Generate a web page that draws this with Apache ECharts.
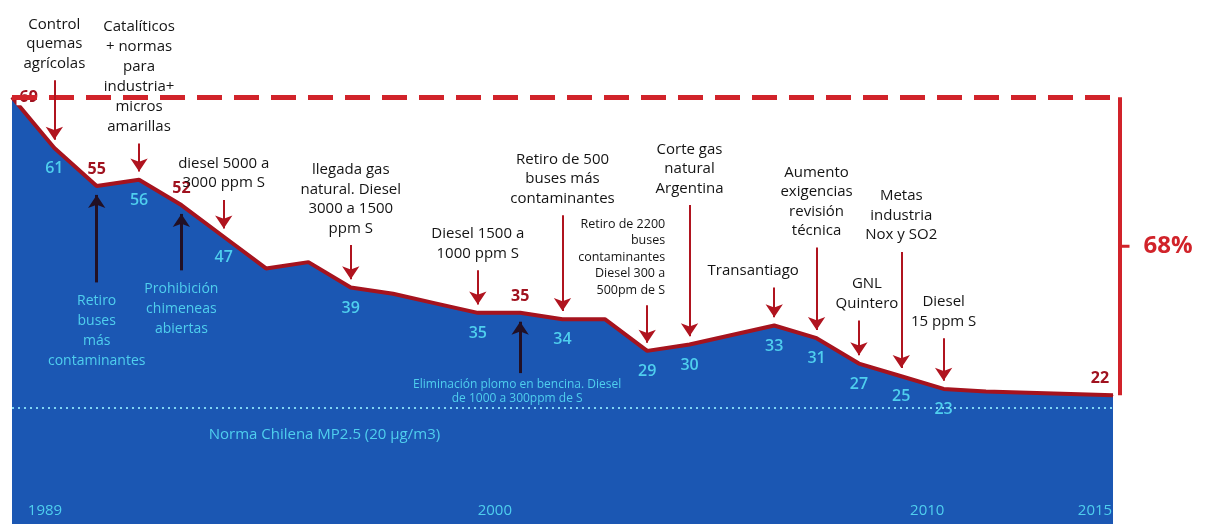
<!DOCTYPE html>
<html>
<head>
<meta charset="utf-8">
<script src="https://cdn.jsdelivr.net/npm/echarts@6/dist/echarts.min.js"></script>
<style>html,body{margin:0;padding:0;background:#fff}#c{width:1205px;height:524px}</style>
</head>
<body>
<div id="c"></div>
<script>
// ---------------- DATA ----------------
const years = ['1989','1990','1991','1992','1993','1994','1995','1996','1997','1998','1999','2000','2001','2002','2003','2004','2005','2006','2007','2008','2009','2010','2011','2012','2013','2014','2015'];
const pm25 = [69,61,55,56,52,47,42,43,39,38,36.5,35,35,34,34,29,30,31.5,33,31,27,25,23,22.6,22.4,22.2,22];
// which value labels are printed: r = red above the line, b = cyan below, '' = none
const valueLabelKind = ['r','b','r','b','r','b','','','b','','','b','r','b','','b','b','','b','b','b','b','b','','','','r'];
const tickYears = ['1989','2000','2010','2015'];

const downYears = ['1990','1992','1994','1997','2000','2002','2004','2005','2007','2008','2009','2010','2011'];
const downTexts = [
  'Control\nquemas\nagrícolas',
  'Catalíticos\n+ normas\npara\nindustria+\nmicros\namarillas',
  'diesel 5000 a\n3000 ppm S',
  'llegada gas\nnatural. Diesel\n3000 a 1500\nppm S',
  'Diesel 1500 a\n1000 ppm S',
  'Retiro de 500\nbuses más\ncontaminantes',
  'Retiro de 2200\nbuses\ncontaminantes\nDiesel 300 a\n500pm de S',
  'Corte gas\nnatural\nArgentina',
  'Transantiago',
  'Aumento\nexigencias\nrevisión\ntécnica',
  'GNL\nQuintero',
  'Metas\nindustria\nNox y SO2',
  'Diesel\n15 ppm S'
];
const downArrowTop = [71.7,61.7,52.8,45.7,41.7,50.4,36.2,52.0,39.0,45.3,33.8,44.6,31.0];

const upYears = ['1991','1993','2001'];
const upTexts = [
  'Retiro\nbuses\nmás\ncontaminantes',
  'Prohibición\nchimeneas\nabiertas',
  'Eliminación plomo en bencina. Diesel\nde 1000 a 300ppm de S'
];
const upArrowBottom = [39.8,41.7,25.5];

const normValue = 20;
const normYear = '1996';
const normText = 'Norma Chilena MP2.5 (20 µg/m3)';
const startValue = 69;
const endValue = 22;
const reductionText = '68%';

// ---------------- STYLE ----------------
const FONT = '"Open Sans", "Noto Sans", sans-serif';
const RED_LINE = '#a5131e';
const RED_LABEL = '#a0121f';
const BRACKET = '#d1232a';
const ARROW_RED = '#b0141f';
const ARROW_DARK = '#221024';
const BLUE = '#1b57b3';
const CYAN = '#4fcfee';
const INK = '#141414';

const gridTop = 27.5, gridBottom = 0;
const yMin = 1.7, yMax = 80;

const tickPad = {'1989': [0, 0, 0, 66], '2000': [0, 0, 0, 34], '2010': [0, 0, 0, 52], '2015': [0, 36, 0, 0]};

function valueLabel(i) {
  const k = valueLabelKind[i];
  if (!k) return {show: false};
  const base = {show: true, fontFamily: FONT, fontSize: 16, fontWeight: 'bold'};
  if (k === 'b') return Object.assign(base, {position: 'bottom', distance: 12, color: CYAN, fontWeight: 600});
  if (i === 0) return Object.assign(base, {position: 'right', distance: 4, color: RED_LABEL, backgroundColor: '#fff', padding: [0, 3, 0, 3]});
  if (i === years.length - 1) return Object.assign(base, {position: 'top', distance: 8, offset: [-13, 0], color: RED_LABEL});
  return Object.assign(base, {position: 'top', distance: 8, color: RED_LABEL});
}

const downLabelTweak = {
  '1992': {backgroundColor: '#fff', lineHeight: 20},
  '2004': {fontSize: 12.5, lineHeight: 16.5, align: 'right', offset: [18, 0]},
  '2007': {offset: [-21, 0]},
  '2009': {offset: [8, 0]}
};
const upLabelTweak = {
  '2001': {fontSize: 12, lineHeight: 14, distance: 4, offset: [-3, 0]}
};

const noteData = [];
downYears.forEach((y, i) => {
  noteData.push({
    value: [y, downArrowTop[i]],
    label: Object.assign({show: true, position: 'top', distance: 7, formatter: downTexts[i],
      color: INK, fontFamily: FONT, fontSize: 15, lineHeight: 19.5, align: 'center'}, downLabelTweak[y] || {})
  });
});
upYears.forEach((y, i) => {
  noteData.push({
    value: [y, upArrowBottom[i]],
    label: Object.assign({show: true, position: 'bottom', distance: 9, formatter: upTexts[i],
      color: CYAN, fontFamily: FONT, fontSize: 14, lineHeight: 20, align: 'center'}, upLabelTweak[y] || {})
  });
});
noteData.push({
  value: [normYear, normValue],
  label: {show: true, position: 'bottom', distance: 19, offset: [16, 0], formatter: normText, color: CYAN, fontFamily: FONT, fontSize: 15}
});

const arrowLines = [];
downYears.forEach((y, i) => {
  const v = pm25[years.indexOf(y)];
  arrowLines.push([{coord: [y, downArrowTop[i]], lineStyle: {color: ARROW_RED, width: 2, type: 'solid'}}, {coord: [y, v + 1.3]}]);
});
upYears.forEach((y, i) => {
  const v = pm25[years.indexOf(y)];
  arrowLines.push([{coord: [y, upArrowBottom[i]], lineStyle: {color: ARROW_DARK, width: 3, type: 'solid'}}, {coord: [y, v - 1.4]}]);
});

const tickRich = {};
tickYears.forEach(y => {
  tickRich[(y === '2015' ? 'r' : 'l') + y] = {padding: tickPad[y], color: CYAN, fontFamily: FONT, fontSize: 15};
});

const chart = echarts.init(document.getElementById('c'), null, {renderer: 'canvas'});
chart.setOption({
  animation: false,
  backgroundColor: '#fff',
  grid: [
    {left: 12, right: 92, top: gridTop, bottom: gridBottom, containLabel: false, outerBoundsMode: 'none'},
    {left: 12, right: 85, top: gridTop, bottom: gridBottom, containLabel: false, outerBoundsMode: 'none'}
  ],
  xAxis: [
    {
      type: 'category', gridIndex: 0, boundaryGap: false, position: 'bottom', offset: -21, z: 10,
      data: years,
      axisLine: {show: false}, axisTick: {show: false}, splitLine: {show: false},
      axisLabel: {show: true, margin: 0, interval: 0, hideOverlap: false, color: CYAN, fontFamily: FONT, fontSize: 15,
        formatter: v => tickYears.indexOf(v) >= 0 ? '{' + (v === '2015' ? 'r' : 'l') + v + '|' + v + '}' : '',
        rich: tickRich}
    },
    {type: 'category', gridIndex: 1, boundaryGap: false, data: years, show: false}
  ],
  yAxis: [
    {type: 'value', gridIndex: 0, min: yMin, max: yMax, show: false, splitLine: {show: false}},
    {type: 'value', gridIndex: 1, min: yMin, max: yMax, show: false, splitLine: {show: false}}
  ],
  series: [
    {
      name: 'bracket', type: 'scatter', xAxisIndex: 1, yAxisIndex: 1, z: 1,
      data: [[years[years.length - 1], (startValue + endValue) / 2]],
      symbol: 'rect', symbolSize: [9, 3], symbolOffset: [5, 0],
      itemStyle: {color: BRACKET, opacity: 1},
      label: {show: true, position: 'right', distance: 14, formatter: reductionText, color: BRACKET,
        fontFamily: FONT, fontSize: 24, fontWeight: 'bold'},
      markLine: {
        silent: true, symbol: ['none', 'none'], label: {show: false},
        data: [
          [{coord: [years[0], startValue], lineStyle: {color: BRACKET, width: 5, type: [25, 12]}}, {coord: [years[years.length - 1], startValue]}],
          [{coord: [years[years.length - 1], startValue], lineStyle: {color: BRACKET, width: 4, type: 'solid'}}, {coord: [years[years.length - 1], endValue]}]
        ]
      }
    },
    {
      name: 'MP2.5', type: 'line', xAxisIndex: 0, yAxisIndex: 0, z: 2,
      data: pm25.map((v, i) => ({value: v, label: valueLabel(i)})),
      symbol: 'circle', symbolSize: 1, showSymbol: true,
      itemStyle: {color: RED_LINE},
      lineStyle: {color: RED_LINE, width: 4},
      areaStyle: {color: BLUE, opacity: 1},
      markLine: {
        silent: true, symbol: ['none', 'none'], label: {show: false},
        data: [{yAxis: normValue}],
        lineStyle: {color: '#7fd6f4', width: 2, type: [2, 4]}
      }
    },
    {
      name: 'notes', type: 'scatter', xAxisIndex: 0, yAxisIndex: 0, z: 4,
      symbolSize: 0, itemStyle: {opacity: 1}, data: noteData,
      markLine: {
        silent: true, symbol: ['none', 'arrow'], symbolSize: 13, label: {show: false},
        data: arrowLines
      }
    }
  ]
});
</script>
</body>
</html>
